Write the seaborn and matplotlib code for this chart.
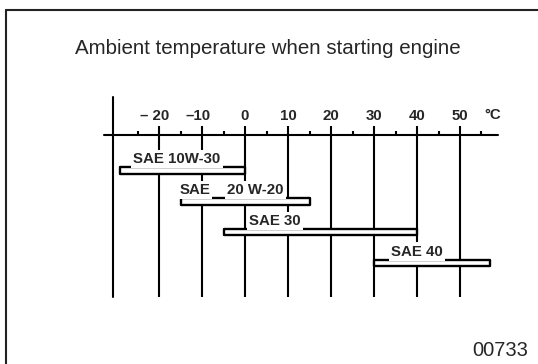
import matplotlib
matplotlib.use("Agg")
import matplotlib.pyplot as plt
from matplotlib.lines import Line2D
import seaborn as sns
import pandas as pd
import numpy as np

# Oil grades and the ambient temperature range (°C) each one covers
grades = ["SAE 10W-30", "SAE 20W-20", "SAE 30", "SAE 40"]
temp_low = [-29, -15, -5, 30]
temp_high = [0, 15, 40, 57]

# Temperature scale
major_ticks = [-20, -10, 0, 10, 20, 30, 40, 50]
major_labels = ["– 20", "–10", "0", "10", "20", "30", "40", "50"]
minor_ticks = [-25, -15, -5, 5, 15, 25, 35, 45, 55]
unit_label = "°C"

# Grade captions written above each bar: (text, left edge in °C)
captions = [
    [("SAE 10W-30", -26.0)],
    [("SAE", -15.3), ("20 W-20", -4.2)],
    [("SAE 30", 1.0)],
    [("SAE 40", 34.0)],
]

title = "Ambient temperature when starting engine"
figure_code = "00733"

sns.set_style("white")
plt.rcParams["font.family"] = ["Liberation Sans", "DejaVu Sans"]

W, H = 538, 364
fig = plt.figure(figsize=(W / 100, H / 100), dpi=100)
ax = fig.add_axes([0, 0, 1, 1])

df = pd.DataFrame({
    "grade": grades,
    "low": temp_low,
    "span": np.array(temp_high) - np.array(temp_low),
})

sns.barplot(data=df, y="grade", x="span", left=df["low"].to_numpy(),
            orient="h", color="white", edgecolor="black", linewidth=1.7,
            width=0.21, saturation=1, ax=ax, zorder=3, joinstyle="round")

# scale: 10 °C ≈ 43 px, rows spaced ≈ 31 px
ax.set_xlim(-56.98, 68.14)
ax.set_ylim(6.28, -5.54)
ax.axis("off")

axis_y = -1.15
bottom_y = 4.11
line_kw = dict(color="black", linewidth=1.5, zorder=1)

# horizontal temperature axis and the left vertical rule
ax.plot([-32.8, 58.8], [axis_y, axis_y], **line_kw)
ax.plot([-30.7, -30.7], [-2.39, bottom_y], **line_kw)

# major ticks continue down as reference lines
ax.vlines(major_ticks, -1.44, bottom_y, **line_kw)
ax.vlines(minor_ticks, -1.27, axis_y, **line_kw)

label_font = dict(family=["Liberation Sans Narrow", "Liberation Sans", "DejaVu Sans"],
                  fontweight="bold", fontsize=10.8)
for t, lab in zip(major_ticks, major_labels):
    shift = -1.0 if lab.startswith("–") else 0.0
    ax.text(t + shift, -1.78, lab, ha="center", va="center", **label_font)
ax.text(57.7, -1.80, unit_label, ha="center", va="center", **label_font)

for row, parts in enumerate(captions):
    for text, x0 in parts:
        ax.text(x0, row - 0.37, text, ha="left", va="center", zorder=4,
                bbox=dict(boxstyle="square,pad=0.15", fc="white", ec="none"),
                **label_font)

fig.text(75 / W, 1 - 48 / H, title, ha="left", va="center", fontsize=14.8)
fig.text(528 / W, 1 - 350 / H, figure_code, ha="right", va="center", fontsize=14.5)

# border along the left and top edges
fig.add_artist(Line2D([6 / W, 6 / W], [0, 1 - 10 / H], color="#222222", linewidth=1.5))
fig.add_artist(Line2D([6 / W, 1], [1 - 10 / H, 1 - 10 / H], color="#222222", linewidth=1.5))

fig.savefig("out.png", dpi=100, facecolor="white")
